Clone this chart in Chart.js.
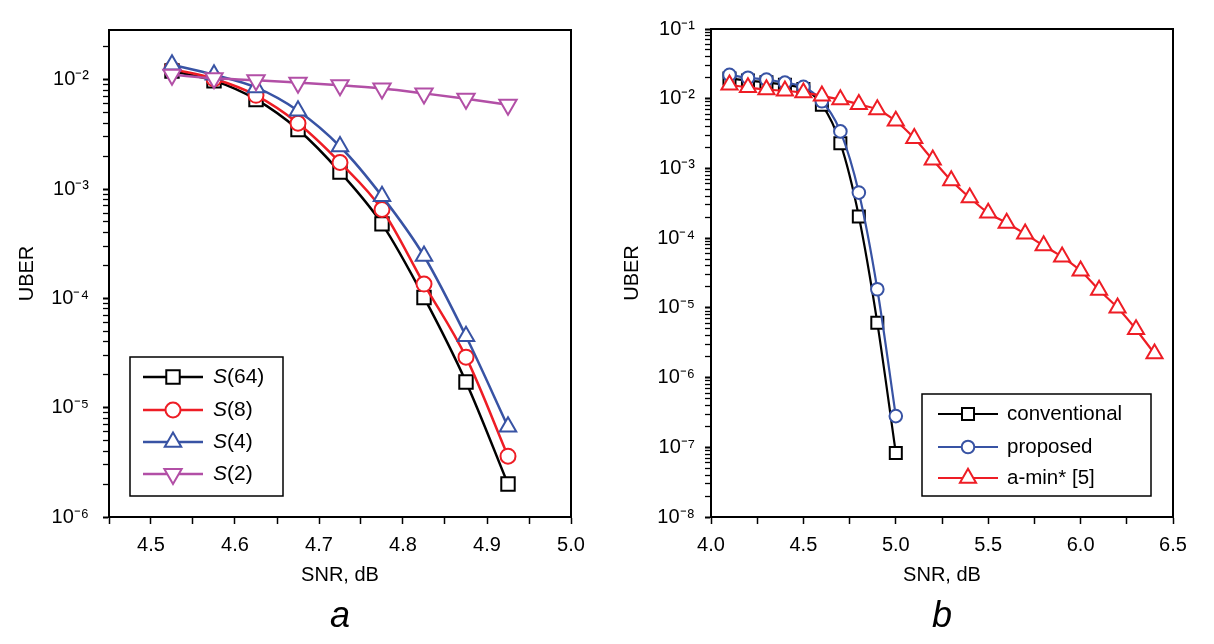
<!DOCTYPE html>
<html><head><meta charset="utf-8">
<script src="https://cdn.jsdelivr.net/npm/chart.js@4"></script>
<style>
body{margin:0;background:#fff;width:1214px;height:644px;overflow:hidden;position:relative;font-family:"Liberation Sans",Arial,sans-serif;}
.wrap{position:absolute;top:0;height:600px;}
#w1{left:0;width:600px}
#w2{left:600px;width:614px}
.lab{position:absolute;top:597px;font-style:italic;font-size:36px;line-height:36px;color:#000;}
</style></head><body>
<div class="wrap" id="w1"><canvas id="c1" width="600" height="600"></canvas></div>
<div class="wrap" id="w2"><canvas id="c2" width="614" height="600"></canvas></div>
<div class="lab" style="left:330px">a</div>
<div class="lab" style="left:932px">b</div>
<script>
// ---------- data: panel a ----------
const leftX = [4.525, 4.575, 4.625, 4.675, 4.725, 4.775, 4.825, 4.875, 4.925];
const leftS64 = [0.0120, 0.0098, 0.0066, 0.0035, 0.00143, 0.00048, 0.000102, 1.72e-5, 2.0e-6];
const leftS8  = [0.0125, 0.0102, 0.0072, 0.0040, 0.00175, 0.00065, 0.000135, 2.9e-5, 3.6e-6];
const leftS4  = [0.0137, 0.0111, 0.0085, 0.0052, 0.00245, 0.00086, 0.000244, 4.5e-5, 6.7e-6];
const leftS2  = [0.0111, 0.0103, 0.0099, 0.0094, 0.0089, 0.0083, 0.0075, 0.0067, 0.0059];
const leftXTicks = [4.45, 4.5, 4.55, 4.6, 4.65, 4.7, 4.75, 4.8, 4.85, 4.9, 4.95, 5.0];
const leftYMin = 1e-6, leftYMax = 0.0285;

// ---------- data: panel b ----------
const rightX1 = [4.1, 4.2, 4.3, 4.4, 4.5, 4.6, 4.7, 4.8, 4.9, 5.0];
const conventional = [0.0195, 0.0182, 0.0172, 0.0158, 0.0138, 0.0082, 0.0023, 0.000205, 6.1e-6, 8.3e-8];
const proposed     = [0.022, 0.020, 0.0188, 0.017, 0.0148, 0.0092, 0.0034, 0.00045, 1.85e-5, 2.8e-7];
const rightX2 = [4.1, 4.2, 4.3, 4.4, 4.5, 4.6, 4.7, 4.8, 4.9, 5.0, 5.1, 5.2, 5.3, 5.4, 5.5, 5.6, 5.7, 5.8, 5.9, 6.0, 6.1, 6.2, 6.3, 6.4];
const aMin = [0.0158, 0.0145, 0.0135, 0.0130, 0.0122, 0.0110, 0.0097, 0.0083, 0.0070, 0.0048, 0.0027, 0.00133, 0.00067, 0.00038, 0.00023, 0.000165, 0.000115, 7.8e-5, 5.4e-5, 3.4e-5, 1.8e-5, 1.0e-5, 4.9e-6, 2.2e-6];
const rightXTicks = [4.0, 4.25, 4.5, 4.75, 5.0, 5.25, 5.5, 5.75, 6.0, 6.25, 6.5];
const rightYMin = 1e-8, rightYMax = 1e-1;

const FONT = '"Liberation Sans", Arial, Helvetica, sans-serif';
const toXY = (xs, ys) => xs.map((x, i) => ({x: x, y: ys[i]}));
const SUP = {'-':'\u207B','0':'\u2070','1':'\u00B9','2':'\u00B2','3':'\u00B3','4':'\u2074','5':'\u2075','6':'\u2076','7':'\u2077','8':'\u2078','9':'\u2079'};
const supStr = s => String(s).split('').map(c => SUP[c] || c).join('');

function logTicks(min, max) {
  const out = [];
  const e0 = Math.floor(Math.log10(min) + 1e-9), e1 = Math.ceil(Math.log10(max) - 1e-9);
  for (let e = e0; e <= e1; e++) {
    for (let k = 1; k <= 9; k++) {
      const v = k * Math.pow(10, e);
      if (v >= min * 0.999 && v <= max * 1.001) out.push({value: v, major: k === 1});
    }
  }
  return out;
}
function isDecade(v) { const l = Math.log10(v); return Math.abs(l - Math.round(l)) < 1e-6; }

const framePlugin = {
  id: 'frame',
  afterDatasetsDraw(chart) {
    const a = chart.chartArea, ctx = chart.ctx;
    ctx.save(); ctx.strokeStyle = '#000'; ctx.lineWidth = 2;
    ctx.strokeRect(a.left, a.top, a.right - a.left, a.bottom - a.top);
    ctx.restore();
  }
};

const boxLegend = {
  id: 'boxLegend',
  afterDraw(chart, args, o) {
    const ctx = chart.ctx;
    ctx.save();
    ctx.fillStyle = '#fff';
    ctx.fillRect(o.x, o.y, o.w, o.h);
    ctx.strokeStyle = '#000'; ctx.lineWidth = 1.5;
    ctx.strokeRect(o.x, o.y, o.w, o.h);
    chart.data.datasets.forEach((ds, i) => {
      const y = o.rowY[i];
      ctx.strokeStyle = ds.borderColor; ctx.lineWidth = ds.borderWidth;
      ctx.beginPath(); ctx.moveTo(o.lineX1, y); ctx.lineTo(o.lineX2, y); ctx.stroke();
      ctx.fillStyle = '#fff'; ctx.strokeStyle = ds.borderColor; ctx.lineWidth = ds.pointBorderWidth;
      Chart.helpers.drawPoint(ctx, {pointStyle: ds.pointStyle, rotation: ds.pointRotation || 0,
        radius: ds.pointRadius, borderWidth: ds.pointBorderWidth}, (o.lineX1 + o.lineX2) / 2, y);
      ctx.fillStyle = '#000'; ctx.textBaseline = 'middle'; ctx.textAlign = 'left';
      let tx = o.textX;
      let txt = ds.label;
      if (ds.italicFirst) {
        ctx.font = 'italic ' + o.fontSize + 'px ' + FONT;
        ctx.fillText(txt[0], tx, y);
        tx += ctx.measureText(txt[0]).width;
        txt = txt.slice(1);
      }
      ctx.font = o.fontSize + 'px ' + FONT;
      ctx.fillText(txt, tx, y);
    });
    ctx.restore();
  }
};

function makeOptions(cfg) {
  return {
    responsive: false, animation: false,
    layout: {padding: cfg.padding},
    plugins: {legend: {display: false}, tooltip: {enabled: false}, boxLegend: cfg.legend},
    scales: {
      x: {
        type: 'linear', min: cfg.xMin, max: cfg.xMax,
        afterBuildTicks: s => { s.ticks = cfg.xTicks.map(v => ({value: v})); },
        afterFit: s => { s.height = 70; },
        ticks: {autoSkip: false, maxRotation: 0, color: '#000', font: {size: 20, family: FONT}, padding: 9,
          callback: v => (Math.abs(v * 10 - Math.round(v * 10)) < 1e-6 && cfg.xLabelEvery(v)) ? v.toFixed(1) : ''},
        grid: {drawOnChartArea: false, drawTicks: true, tickLength: 7, tickColor: '#000', tickWidth: 1.5},
        border: {display: true, color: '#000', width: 2},
        title: {display: true, text: 'SNR, dB', color: '#000', font: {size: 20, family: FONT}, padding: {top: 0, bottom: 0}}
      },
      y: {
        type: 'logarithmic', min: cfg.yMin, max: cfg.yMax,
        afterBuildTicks: s => { s.ticks = logTicks(cfg.yMin, cfg.yMax); },
        afterFit: s => { s.width = cfg.yWidth; },
        ticks: {autoSkip: false, color: '#000', font: {size: 20, family: FONT}, padding: cfg.yPad,
          callback: v => isDecade(v) ? '10' + supStr(Math.round(Math.log10(v))) : ''},
        grid: {drawOnChartArea: false, drawTicks: true, tickLength: 6, tickColor: '#000',
          tickWidth: c => (c.tick && isDecade(c.tick.value)) ? 2 : 1.3},
        border: {display: true, color: '#000', width: 2},
        title: {display: true, text: 'UBER', color: '#000', font: {size: 20, family: FONT}, padding: {top: cfg.yTitlePad, bottom: 0}}
      }
    }
  };
}

function ds(label, xs, ys, color, style, r, order, extra) {
  return Object.assign({
    label: label, data: toXY(xs, ys), borderColor: color, backgroundColor: '#fff',
    pointBackgroundColor: '#fff', pointBorderColor: color, pointStyle: style, pointRadius: r,
    pointHoverRadius: r, pointBorderWidth: 2, borderWidth: 2.5, cubicInterpolationMode: 'monotone', order: order
  }, extra || {});
}

new Chart(document.getElementById('c1'), {
  type: 'line',
  data: {datasets: [
    ds('S(64)', leftX, leftS64, '#000000', 'rect', 9.5, 4, {italicFirst: true}),
    ds('S(8)', leftX, leftS8, '#ee1d25', 'circle', 7.5, 3, {italicFirst: true}),
    ds('S(4)', leftX, leftS4, '#3853a4', 'triangle', 9.5, 2, {italicFirst: true}),
    ds('S(2)', leftX, leftS2, '#b24fa6', 'triangle', 10, 1, {italicFirst: true, pointRotation: 180})
  ]},
  options: makeOptions({
    padding: {left: 14, right: 29, top: 30, bottom: 13},
    xMin: 4.45, xMax: 5.0, xTicks: leftXTicks, xLabelEvery: v => true,
    yMin: leftYMin, yMax: leftYMax, yWidth: 95, yPad: 14, yTitlePad: 1,
    legend: {x: 130, y: 357, w: 153, h: 139, rowY: [377, 410, 442, 474], lineX1: 143, lineX2: 203, textX: 213, fontSize: 21}
  }),
  plugins: [framePlugin, boxLegend]
});

new Chart(document.getElementById('c2'), {
  type: 'line',
  data: {datasets: [
    ds('conventional', rightX1, conventional, '#000000', 'rect', 8.5, 3, {borderWidth: 2.2}),
    ds('proposed', rightX1, proposed, '#3853a4', 'circle', 6.3, 2, {borderWidth: 2.2}),
    ds('a-min* [5]', rightX2, aMin, '#ee1d25', 'triangle', 9.3, 1, {borderWidth: 2.2})
  ]},
  options: makeOptions({
    padding: {left: 16, right: 41, top: 29, bottom: 13},
    xMin: 4.0, xMax: 6.5, xTicks: rightXTicks, xLabelEvery: v => Math.abs(v * 2 - Math.round(v * 2)) < 1e-6,
    yMin: rightYMin, yMax: rightYMax, yWidth: 95, yPad: 10, yTitlePad: 4,
    legend: {x: 322, y: 394, w: 229, h: 102, rowY: [414, 447, 478], lineX1: 338, lineX2: 398, textX: 407, fontSize: 20.5}
  }),
  plugins: [framePlugin, boxLegend]
});
</script>
</body></html>
